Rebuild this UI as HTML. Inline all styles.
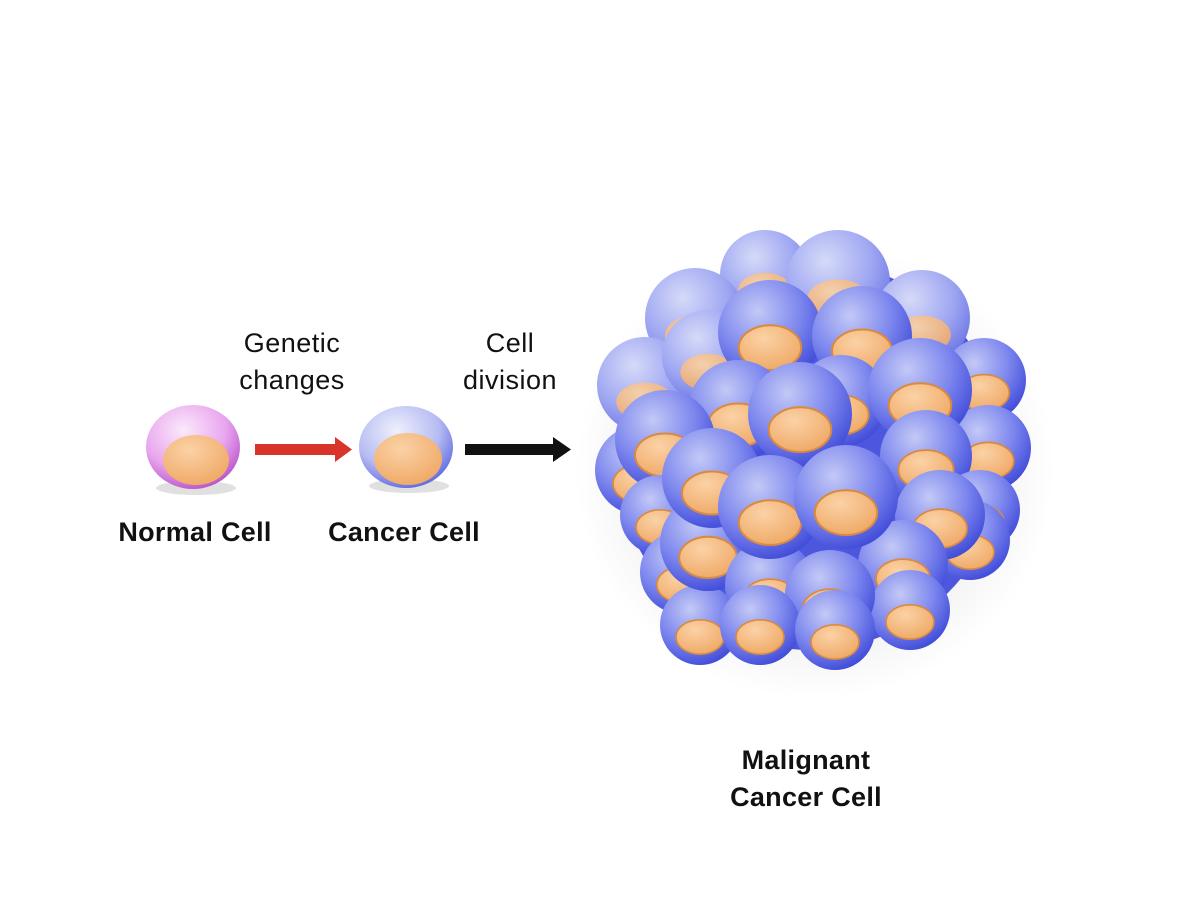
<!DOCTYPE html>
<html><head><meta charset="utf-8"><style>
html,body{margin:0;padding:0;background:#fff;}
svg{display:block;}
text{font-family:"Liberation Sans",sans-serif;fill:#111;}
</style></head><body>
<svg width="1188" height="902" viewBox="0 0 1188 902" xmlns="http://www.w3.org/2000/svg">
<defs>
<radialGradient id="b" cx="0.38" cy="0.3" r="0.75">
<stop offset="0" stop-color="#c3c9f6"/><stop offset="0.55" stop-color="#7d87ee"/><stop offset="1" stop-color="#3d48d8"/>
</radialGradient>
<radialGradient id="bl" cx="0.38" cy="0.3" r="0.75">
<stop offset="0" stop-color="#d6daf8"/><stop offset="0.6" stop-color="#9ea6f2"/><stop offset="1" stop-color="#6a74e4"/>
</radialGradient>
<radialGradient id="p" cx="0.4" cy="0.3" r="0.75">
<stop offset="0" stop-color="#fbe9fb"/><stop offset="0.6" stop-color="#e8a6ee"/><stop offset="1" stop-color="#b64fc8"/>
</radialGradient>
<radialGradient id="sb" cx="0.4" cy="0.3" r="0.75">
<stop offset="0" stop-color="#eef0fc"/><stop offset="0.6" stop-color="#b6bcf2"/><stop offset="1" stop-color="#5a64de"/>
</radialGradient>
<radialGradient id="o" cx="0.4" cy="0.3" r="0.8">
<stop offset="0" stop-color="#fbd2a6"/><stop offset="1" stop-color="#eea560"/>
</radialGradient>
<radialGradient id="sh" cx="0.5" cy="0.5" r="0.5">
<stop offset="0" stop-color="#000" stop-opacity="0.18"/><stop offset="1" stop-color="#000" stop-opacity="0"/>
</radialGradient>
<symbol id="c" viewBox="-1 -1 2 2" overflow="visible">
<circle r="1" fill="url(#b)"/>
<ellipse cx="0" cy="0.3" rx="0.6" ry="0.43" fill="url(#o)" stroke="#d88a40" stroke-width="0.04"/>
</symbol>
<symbol id="cl" viewBox="-1 -1 2 2" overflow="visible">
<circle r="1" fill="url(#bl)"/>
<ellipse cx="0" cy="0.35" rx="0.6" ry="0.4" fill="url(#o)" opacity="0.9"/>
</symbol>
</defs>

<ellipse cx="815" cy="470" rx="240" ry="230" fill="url(#sh)"/>
<ellipse cx="810" cy="455" rx="195" ry="195" fill="#4c57de"/>
<g>
<use href="#cl" x="720" y="230" width="90" height="90"/>
<use href="#cl" x="786" y="230" width="104" height="104"/>
<use href="#cl" x="645" y="268" width="100" height="100"/>
<use href="#cl" x="874" y="270" width="96" height="96"/>
<use href="#cl" x="597" y="337" width="96" height="96"/>
<use href="#c" x="942" y="338" width="84" height="84"/>
<use href="#cl" x="662" y="310" width="92" height="92"/>
<use href="#c" x="718" y="280" width="104" height="104"/>
<use href="#c" x="812" y="286" width="100" height="100"/>
<use href="#c" x="688" y="360" width="100" height="100"/>
<use href="#c" x="795" y="355" width="92" height="92"/>
<use href="#c" x="945" y="405" width="86" height="86"/>
<use href="#c" x="868" y="338" width="104" height="104"/>
<use href="#c" x="595" y="425" width="90" height="90"/>
<use href="#c" x="748" y="362" width="104" height="104"/>
<use href="#c" x="615" y="390" width="100" height="100"/>
<use href="#c" x="880" y="410" width="92" height="92"/>
<use href="#c" x="940" y="470" width="80" height="80"/>
<use href="#c" x="620" y="475" width="80" height="80"/>
<use href="#c" x="930" y="500" width="80" height="80"/>
<use href="#c" x="895" y="470" width="90" height="90"/>
<use href="#c" x="640" y="530" width="84" height="84"/>
<use href="#c" x="660" y="585" width="80" height="80"/>
<use href="#c" x="660" y="495" width="96" height="96"/>
<use href="#c" x="858" y="520" width="90" height="90"/>
<use href="#c" x="870" y="570" width="80" height="80"/>
<use href="#c" x="725" y="540" width="90" height="90"/>
<use href="#c" x="785" y="550" width="90" height="90"/>
<use href="#c" x="720" y="585" width="80" height="80"/>
<use href="#c" x="795" y="590" width="80" height="80"/>
<use href="#c" x="662" y="428" width="100" height="100"/>
<use href="#c" x="718" y="455" width="104" height="104"/>
<use href="#c" x="794" y="445" width="104" height="104"/>
</g>

<ellipse cx="196" cy="488" rx="40" ry="7" fill="#000" opacity="0.12"/>
<ellipse cx="193" cy="447" rx="47" ry="42" fill="url(#p)"/>
<ellipse cx="196" cy="460" rx="33" ry="25" fill="url(#o)"/>
<ellipse cx="409" cy="486" rx="40" ry="7" fill="#000" opacity="0.12"/>
<ellipse cx="406" cy="447" rx="47" ry="41" fill="url(#sb)"/>
<ellipse cx="408" cy="459" rx="34" ry="26" fill="url(#o)"/>

<rect x="255" y="444" width="82" height="11" fill="#d9342a"/>
<polygon points="335,437 352,449.5 335,462" fill="#d9342a"/>
<rect x="465" y="444" width="90" height="11" fill="#111"/>
<polygon points="553,437 571,449.5 553,462" fill="#111"/>

<g font-size="27" text-anchor="middle" letter-spacing="0.5">
<text x="292" y="352">Genetic</text>
<text x="292" y="389">changes</text>
<text x="510" y="352">Cell</text>
<text x="510" y="389">division</text>
</g>
<g font-size="27" font-weight="bold" text-anchor="middle" letter-spacing="0.3">
<text x="195" y="541">Normal Cell</text>
<text x="404" y="541">Cancer Cell</text>
<text x="806" y="769">Malignant</text>
<text x="806" y="806">Cancer Cell</text>
</g>
</svg>
</body></html>
